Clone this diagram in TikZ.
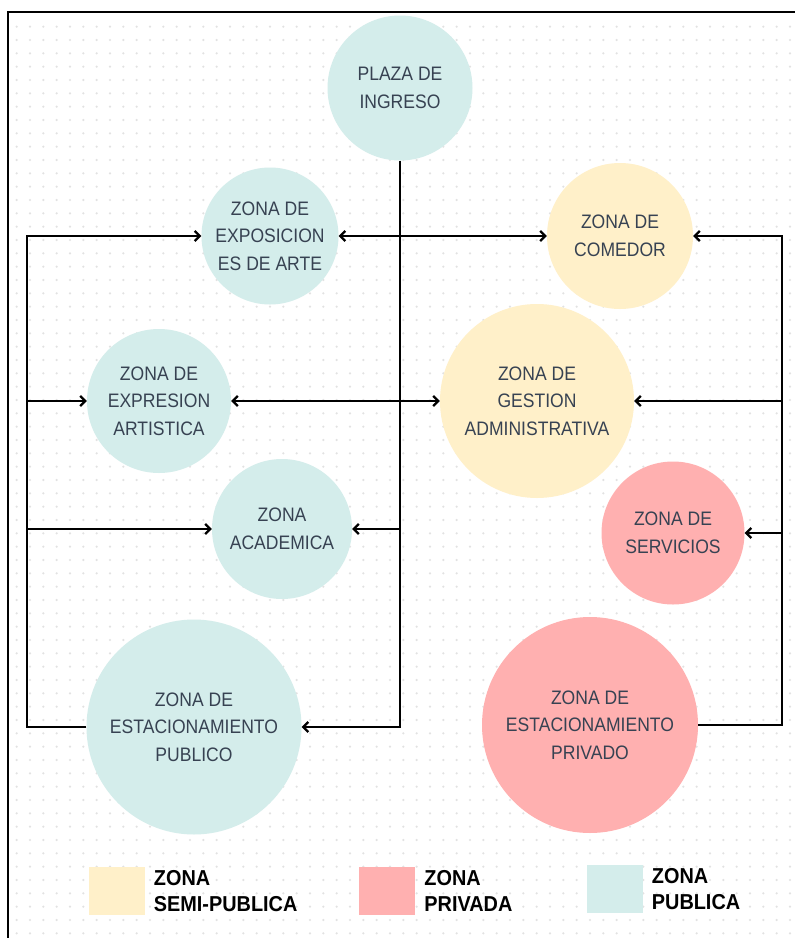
\documentclass[tikz,border=0pt]{standalone}
\usepackage{fontspec}
\usepackage{xcolor,tikz}
\usetikzlibrary{arrows.meta,positioning}
\newfontfamily\zonafont{Liberation Sans}[FakeStretch=0.9]
\newfontfamily\legfont{Liberation Sans}[FakeStretch=0.92]
\definecolor{pubc}{RGB}{212,237,235}
\definecolor{semic}{RGB}{255,240,201}
\definecolor{privc}{RGB}{255,176,176}
\definecolor{txtc}{RGB}{55,66,82}
\definecolor{dotc}{RGB}{226,226,226}
\begin{document}
\begin{tikzpicture}[x=1pt,y=-1pt,>={Straight Barb[length=5pt,width=10pt]},
 zona/.style={circle,inner sep=0pt,align=center,text=txtc,font=\zonafont\fontsize{19.5}{27.5}\selectfont},
 pub/.style={zona,fill=pubc},semi/.style={zona,fill=semic},priv/.style={zona,fill=privc},
 sq/.style={minimum width=56pt,minimum height=48pt,inner sep=0pt},
 leg/.style={align=left,inner sep=0pt,font=\legfont\bfseries\fontsize{21.6}{25.5}\selectfont},
 cn/.style={line width=2.3pt}]
 \fill[white] (0,0) rectangle (795,938);
 \useasboundingbox (0,0) rectangle (795,938);
 \foreach \i in {1,...,59} \foreach \j in {2,...,70}
  \fill[dotc] (3.33+13.333*\i,13.333*\j) circle (1.2);
 \draw[line width=2.6pt] (8,938)--(8,12)--(795,12);
 \node[pub,minimum size=145pt] (plaza) at (400,88) {PLAZA DE\\INGRESO};
 \node[pub,minimum size=137pt] (expo) at (270,236) {ZONA DE\\EXPOSICION\\ES DE ARTE};
 \node[semi,minimum size=146pt] (come) at (620,236) {ZONA DE\\COMEDOR};
 \node[pub,minimum size=144pt] (expr) at (159,401) {ZONA DE\\EXPRESION\\ARTISTICA};
 \node[semi,minimum size=194pt] (gest) at (537,401) {ZONA DE\\GESTION\\ADMINISTRATIVA};
 \node[pub,minimum size=140pt] (acad) at (282,529) {ZONA\\ACADEMICA};
 \node[priv,minimum size=143pt] (serv) at (673,533) {ZONA DE\\SERVICIOS};
 \node[pub,minimum size=215pt] (epub) at (194,727) {ZONA DE\\ESTACIONAMIENTO\\PUBLICO};
 \node[priv,minimum size=216pt] (epriv) at (590,725) {ZONA DE\\ESTACIONAMIENTO\\PRIVADO};
 \coordinate (lt) at (27,236); \coordinate (rt) at (782,236);
 \draw[cn,->] (epub.west) -| (lt) -- (expo.west);
 \draw[cn,->] (lt |- expr.west)--(expr.west);\draw[cn,->] (lt |- acad.west)--(acad.west);
 \draw[cn,->] (plaza.south) |- (epub.east);
 \draw[cn,->] (plaza.south |- acad.east)--(acad.east);
 \draw[cn,<->] (expo)--(come);\draw[cn,<->] (expr)--(gest);
 \draw[cn,->] (epriv.east) -| (rt) -- (come.east);
 \draw[cn,->] (rt |- gest.east)--(gest.east);\draw[cn,->] (rt |- serv.east)--(serv.east);
 \node[sq,fill=semic] (lsemi) at (116.5,891) {};
 \node[leg,right=9pt of lsemi] (tsemi) {ZONA\\SEMI-PUBLICA};
 \node[sq,fill=privc] (lpriv) at (387,891) {};
 \node[leg,right=9pt of lpriv] (tpriv) {ZONA\\PRIVADA};
 \node[sq,fill=pubc] (lpub) at (614.5,889) {};
 \node[leg,right=9pt of lpub] (tpub) {ZONA\\PUBLICA};
\end{tikzpicture}
\end{document}
